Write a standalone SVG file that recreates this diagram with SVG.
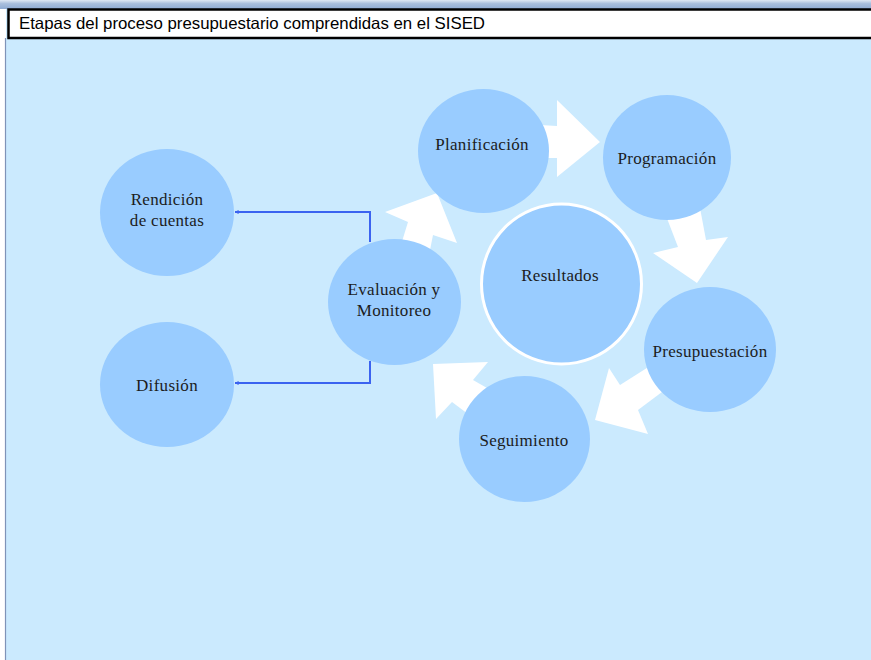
<svg xmlns="http://www.w3.org/2000/svg" width="871" height="660" viewBox="0 0 871 660">
<defs>
<linearGradient id="topg" x1="0" y1="0" x2="0" y2="1">
<stop offset="0" stop-color="#dfe8f4"/>
<stop offset="0.4" stop-color="#a9bfdd"/>
<stop offset="1" stop-color="#8fabd3"/>
</linearGradient>
<marker id="ah" viewBox="0 0 10 10" refX="9" refY="5" markerWidth="4" markerHeight="4" orient="auto-start-reverse" markerUnits="userSpaceOnUse">
<path d="M0,0 L10,5 L0,10 z" fill="#3b63f0"/>
</marker>
<style>
.node{fill:#99ccff}
.lbl{font-family:"Liberation Serif","DejaVu Serif",serif;font-size:17px;fill:#1c1c1c;text-anchor:middle;letter-spacing:0.3px}
.blk{fill:#ffffff}
.con{fill:none;stroke:#3b63f0;stroke-width:2}
</style>
</defs>
<rect x="0" y="0" width="871" height="660" fill="#ffffff"/>
<rect x="6" y="0" width="865" height="660" fill="#cbeafe"/>
<line x1="5.5" y1="38" x2="5.5" y2="660" stroke="#7f93b8" stroke-width="1.2"/>
<rect x="0" y="0" width="871" height="9" fill="url(#topg)"/>
<rect x="8.5" y="9.5" width="866" height="28.5" fill="#ffffff" stroke="#000000" stroke-width="2.5"/>
<text x="19" y="29" font-family="Liberation Sans, Arial, sans-serif" font-size="16.5" fill="#000000" textLength="466" lengthAdjust="spacingAndGlyphs">Etapas del proceso presupuestario comprendidas en el SISED</text>

<g id="cycle-arrows">
<polygon class="blk" points="540,125 557,126 557,100 600,142 557,177 557,158 540,158"/>
<polygon class="blk" points="663,208 700,208 706,240 728,237 697,283 653,253 678,247"/>
<polygon class="blk" points="662,392 638,410 648,434 595,420 609,368 620,385 650,366"/>
<polygon class="blk" points="487,388 473,380 488,362 433,364 436,419 452,402 468,414"/>
<polygon class="blk" points="400,248 408,222 385,212 437,193 457,243 433,235 430,250"/>
</g>

<g id="connectors">
<path class="con" d="M370,242 V212 H235" marker-end="url(#ah)"/>
<path class="con" d="M370,361 V383 H235" marker-end="url(#ah)"/>
</g>

<g id="node-planificacion">
<ellipse class="node" cx="483.5" cy="151" rx="65.5" ry="62"/>
<text class="lbl" x="482" y="150">Planificación</text>
</g>
<g id="node-programacion">
<ellipse class="node" cx="667" cy="157.5" rx="64" ry="62.5"/>
<text class="lbl" x="667" y="164">Programación</text>
</g>
<g id="node-resultados">
<circle cx="561.5" cy="284" r="80" fill="#99ccff" stroke="#ffffff" stroke-width="3"/>
<text class="lbl" x="560" y="281">Resultados</text>
</g>
<g id="node-presupuestacion">
<ellipse class="node" cx="710" cy="349.5" rx="66" ry="62.5"/>
<text class="lbl" x="710" y="357">Presupuestación</text>
</g>
<g id="node-seguimiento">
<ellipse class="node" cx="524.5" cy="439" rx="65.5" ry="63"/>
<text class="lbl" x="524" y="446">Seguimiento</text>
</g>
<g id="node-evaluacion">
<ellipse class="node" cx="394.5" cy="302" rx="66.5" ry="63"/>
<text class="lbl" x="394" y="295">Evaluación y</text>
<text class="lbl" x="394" y="316">Monitoreo</text>
</g>
<g id="node-rendicion">
<ellipse class="node" cx="167" cy="212.5" rx="67" ry="63.5"/>
<text class="lbl" x="167" y="205">Rendición</text>
<text class="lbl" x="167" y="226">de cuentas</text>
</g>
<g id="node-difusion">
<ellipse class="node" cx="167" cy="384.5" rx="67" ry="62.5"/>
<text class="lbl" x="167" y="391">Difusión</text>
</g>
</svg>
